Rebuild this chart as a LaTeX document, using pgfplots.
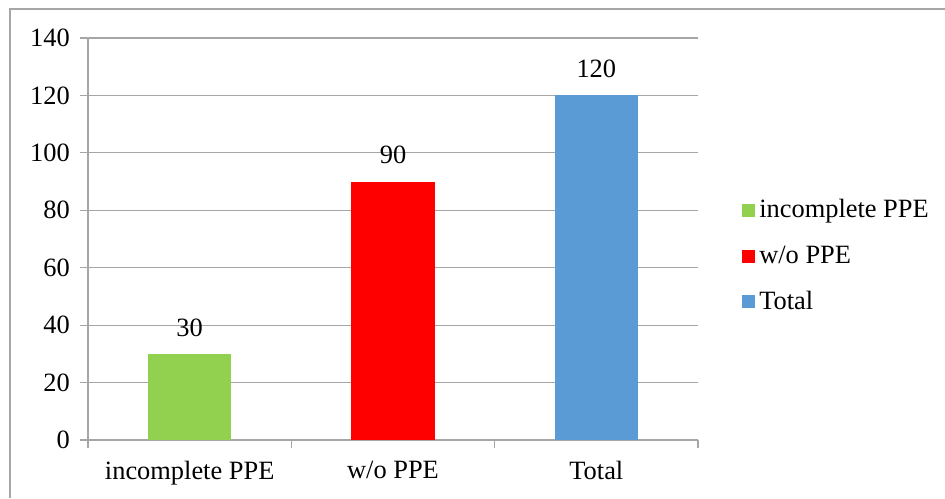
\documentclass[border=0pt]{standalone}
\usepackage{pgfplots}
\pgfplotsset{compat=1.18}
\usepackage{fontspec}
\setmainfont{Liberation Serif}
\setsansfont{Liberation Serif}
\definecolor{cgreen}{HTML}{92D050}
\definecolor{cred}{HTML}{FF0000}
\definecolor{cblue}{HTML}{5B9BD5}
\definecolor{cgrid}{HTML}{A6A6A6}
\begin{document}
\begin{tikzpicture}[x=0.5pt,y=0.5pt]
\path[use as bounding box] (0,0) rectangle (945,498);
\draw[cgrid, line width=0.6pt] (10,0) -- (10,489) -- (945,489);
\begin{axis}[
  at={(44pt,29pt)}, anchor=south west,
  scale only axis, width=305pt, height=201pt,
  font=\rmfamily\fontsize{13.2}{15}\selectfont,
  tick label style={font=\rmfamily\fontsize{13.2}{15}\selectfont},
  /pgf/number format/assume math mode=true,
  xmin=-0.5, xmax=2.5, ymin=0, ymax=140,
  ytick={0,20,...,140},
  xtick={-0.5,0.5,1.5,2.5}, xticklabels={},
  extra x ticks={0,1,2},
  extra x tick labels={incomplete PPE, w/o PPE, Total},
  extra x tick style={major tick length=0pt, xticklabel style={yshift=-7pt}},
  axis x line*=bottom, axis y line*=left,
  axis line style={cgrid, line width=0.6pt, -},
  tick style={cgrid, line width=0.6pt},
  major tick length=4pt, tick align=outside,
  ymajorgrids, grid style={cgrid, line width=0.6pt},
  yticklabel style={xshift=-1.6pt},
  ybar, bar width=0.41, bar shift=0pt,
  nodes near coords,
  nodes near coords style={anchor=south, inner sep=0pt, yshift=8.5pt, font=\rmfamily\fontsize{13.2}{15}\selectfont, text=black},
  legend style={draw=none, at={(1.072,0.4577)}, anchor=west, inner xsep=0pt, row sep=8.5pt, font=\rmfamily\fontsize{13.2}{15}\selectfont, fill=none},
  legend cell align=left,
]
\addplot[fill=cgreen, draw=none, legend image code/.code={\fill[cgreen] (0pt,-3.25pt) rectangle (6.5pt,3.25pt);}] coordinates {(0,30)};
\addplot[fill=cred, draw=none, legend image code/.code={\fill[cred] (0pt,-3.25pt) rectangle (6.5pt,3.25pt);}] coordinates {(1,90)};
\addplot[fill=cblue, draw=none, legend image code/.code={\fill[cblue] (0pt,-3.25pt) rectangle (6.5pt,3.25pt);}] coordinates {(2,120)};
\legend{incomplete PPE, w/o PPE, Total}
\end{axis}
\end{tikzpicture}
\end{document}
